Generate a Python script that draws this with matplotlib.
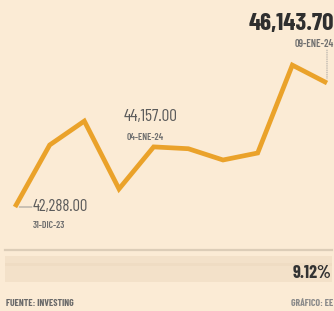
import matplotlib
matplotlib.use("Agg")
import matplotlib.pyplot as plt
from matplotlib.patches import Rectangle
from matplotlib.lines import Line2D

plt.rcParams['font.family'] = ['Barlow Condensed', 'DejaVu Sans']

dates = ["31-DIC-23", "01-ENE-24", "02-ENE-24", "03-ENE-24", "04-ENE-24",
         "05-ENE-24", "06-ENE-24", "07-ENE-24", "08-ENE-24", "09-ENE-24"]
values = [42288.00, 44216, 44960, 42850, 44157.00, 44100, 43750, 43967, 46700, 46143.70]
change_label = "9.12%"
source_text = "FUENTE: INVESTING"
credit_text = "GRÁFICO: EE"

W, H = 334, 311
bg = "#FBEBD5"
orange = "#EAA22A"

fig = plt.figure(figsize=(W / 100, H / 100), dpi=100, facecolor=bg)

# overlay in pixel coordinates
ov = fig.add_axes([0, 0, 1, 1])
ov.set_xlim(0, W)
ov.set_ylim(H, 0)
ov.axis("off")

# chart axes
x0, x1 = 15, 327
y_first, y_last = 207, 83
ax = fig.add_axes([x0 / W, (H - y_first) / H, (x1 - x0) / W, (y_first - y_last) / H])
ax.set_xlim(0, len(values) - 1)
ax.set_ylim(values[0], values[-1])
ax.axis("off")
ax.patch.set_alpha(0)

xs = list(range(len(values)))
ax.plot(xs, values, color=orange, lw=3.4, solid_joinstyle="miter",
        solid_capstyle="butt", clip_on=False, zorder=3)

val_color = "#5b5b5b"
date_color = "#707070"

# first point label
ax.annotate("", xy=(0, values[0]), xytext=(17, 0), textcoords="offset pixels",
            arrowprops=dict(arrowstyle="-", color="#888888", lw=0.6,
                            shrinkA=0, shrinkB=3))
ax.annotate(f"{values[0]:,.2f}", xy=(0, values[0]), xytext=(18, 1),
            textcoords="offset pixels", ha="left", va="center",
            fontsize=12, color=val_color)
ax.annotate(dates[0], xy=(0, values[0]), xytext=(18, -18),
            textcoords="offset pixels", ha="left", va="center",
            fontsize=7, color=date_color, fontweight="semibold")

# middle label
ax.annotate(f"{values[4]:,.2f}", xy=(4, values[4]), xytext=(-3, 30),
            textcoords="offset pixels", ha="center", va="center",
            fontsize=12.5, color=val_color)
ax.annotate(dates[4], xy=(4, values[4]), xytext=(-8, 9),
            textcoords="offset pixels", ha="center", va="center",
            fontsize=7, color=date_color, fontweight="semibold")

# last label
ax.annotate(f"{values[-1]:,.2f}", xy=(9, values[-1]), xytext=(7, 59),
            textcoords="offset pixels", ha="right", va="center",
            fontsize=18, color="#2f2f2f", fontweight="bold")
ax.annotate(dates[-1], xy=(9, values[-1]), xytext=(7, 39),
            textcoords="offset pixels", ha="right", va="center",
            fontsize=7.5, color=date_color, fontweight="semibold")
ax.annotate("", xy=(9, values[-1]), xytext=(0, 33), textcoords="offset pixels",
            arrowprops=dict(arrowstyle="-", color="#999999", lw=0.6, ls=":",
                            shrinkA=0, shrinkB=3))

# bottom band
ov.add_line(Line2D([5, 332], [250, 250], color="#DCCDB8", lw=1.6))
ov.add_patch(Rectangle((5, 256), 327, 26, facecolor="#F3E1C9", edgecolor="none"))
ov.add_patch(Rectangle((5, 263), 327, 3, facecolor="#EFDCC3", edgecolor="none"))
ov.text(331, 273, change_label, ha="right", va="center", fontsize=13,
        fontweight="bold", color="#333333")

ov.text(6, 303, source_text, ha="left", va="center", fontsize=7,
        fontweight="bold", color="#6a6a6a")
ov.text(333, 303, credit_text, ha="right", va="center", fontsize=7,
        fontweight="bold", color="#8a8a8a")

fig.savefig("out.png", dpi=100, facecolor=bg)
